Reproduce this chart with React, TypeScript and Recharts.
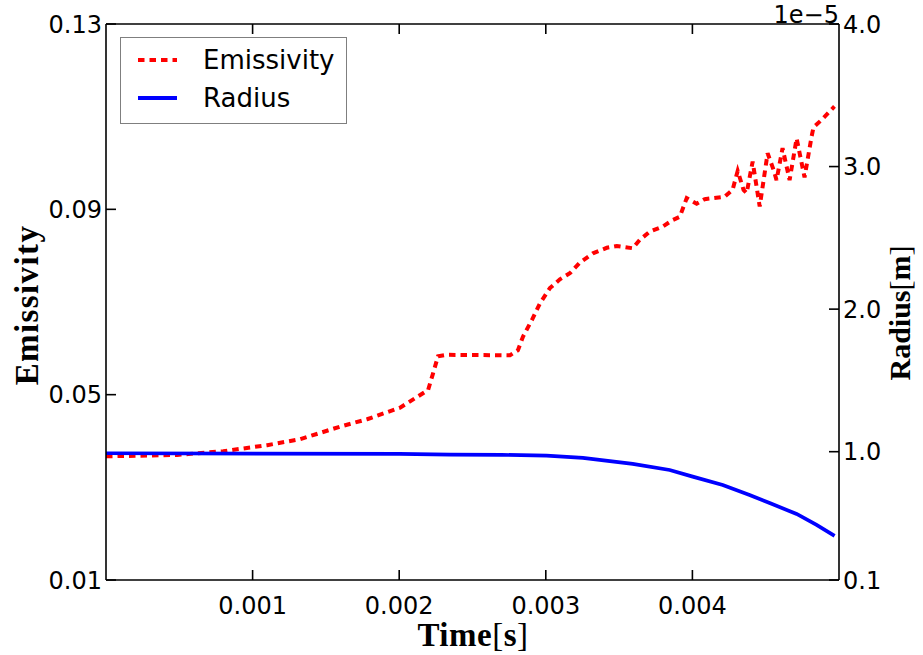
import { Legend, Line, LineChart, ReferenceLine, XAxis, YAxis } from 'recharts';

// time in seconds
const emissivityTime = [
  0, 0.0002, 0.000485, 0.0008, 0.0011, 0.001325, 0.001597, 0.001781, 0.002006, 0.002197,
  0.002231, 0.002265, 0.00232, 0.002756, 0.00281, 0.002844, 0.002905, 0.00296, 0.003028, 0.003096,
  0.003164, 0.003232, 0.003321, 0.003416, 0.003484, 0.003593, 0.003641, 0.003709, 0.003798, 0.003866,
  0.003914, 0.003961, 0.004029, 0.004084, 0.00422, 0.004274, 0.004309, 0.004349, 0.00437, 0.004411,
  0.004459, 0.004513, 0.004554, 0.004574, 0.004615, 0.004663, 0.004711, 0.004765, 0.004813, 0.004826,
  0.004881, 0.004969,
];
const emissivityValues = [
  0.0367, 0.0368, 0.037, 0.0378, 0.0391, 0.0404, 0.0431, 0.0447, 0.0472, 0.051,
  0.0546, 0.0583, 0.0586, 0.0585, 0.0596, 0.0625, 0.0661, 0.0697, 0.073, 0.0749,
  0.0762, 0.0785, 0.0805, 0.0817, 0.0821, 0.0816, 0.0834, 0.0852, 0.0863, 0.0877,
  0.0884, 0.0924, 0.0912, 0.0922, 0.0927, 0.0942, 0.0983, 0.0942, 0.0935, 0.1003,
  0.0906, 0.1021, 0.0985, 0.0963, 0.1032, 0.0963, 0.1053, 0.0969, 0.1057, 0.1077,
  0.1093, 0.1122,
];

const radiusTime = [
  0, 0.002, 0.002347, 0.0027, 0.003005, 0.003253, 0.003593, 0.003845, 0.004002, 0.004207,
  0.00439, 0.004527, 0.004711, 0.004847, 0.00497,
];
// radius in units of 1e-5 m
const radiusValues = [
  0.989, 0.985, 0.98, 0.978, 0.972, 0.956, 0.914, 0.872, 0.825, 0.766,
  0.696, 0.64, 0.563, 0.486, 0.409,
];

const timeTicks = [0.001, 0.002, 0.003, 0.004];
const emissivityTicks = [0.01, 0.05, 0.09, 0.13];
const radiusTicks = [0.1, 1, 2, 3, 4];

const emissivityData = emissivityTime.map((t, i) => ({ t, e: emissivityValues[i] }));
const radiusData = radiusTime.map((t, i) => ({ t, r: radiusValues[i] }));

const LEFT = 106;
const RIGHT = 839;
const TOP = 24;
const BOTTOM = 580;
const TICK = 10;
const AXIS_W = 1.6;
const tickFont = { fontFamily: 'DejaVu Sans', fontSize: 24, fill: '#000' };

function BottomTick(props: any) {
  const { x, payload } = props;
  return (
    <g>
      <line x1={x} x2={x} y1={BOTTOM} y2={BOTTOM - TICK} stroke="#000" strokeWidth={AXIS_W} />
      <line x1={x} x2={x} y1={TOP} y2={TOP + TICK} stroke="#000" strokeWidth={AXIS_W} />
      <text x={x} y={614} textAnchor="middle" {...tickFont}>
        {payload.value.toFixed(3)}
      </text>
    </g>
  );
}

function LeftTick(props: any) {
  const { y, payload } = props;
  return (
    <g>
      <line x1={LEFT} x2={LEFT + TICK} y1={y} y2={y} stroke="#000" strokeWidth={AXIS_W} />
      <text x={102} y={y + 8.5} textAnchor="end" {...tickFont}>
        {payload.value.toFixed(2)}
      </text>
    </g>
  );
}

function RightTick(props: any) {
  const { y, payload } = props;
  return (
    <g>
      <line x1={RIGHT - TICK} x2={RIGHT} y1={y} y2={y} stroke="#000" strokeWidth={AXIS_W} />
      <text x={843} y={y + 8.5} textAnchor="start" {...tickFont}>
        {payload.value.toFixed(1)}
      </text>
    </g>
  );
}

const labelFont = { fontFamily: 'Liberation Serif', fill: '#000' };

function LegendBox(props: any) {
  const { payload } = props;
  return (
    <div
      style={{
        width: 227,
        height: 87,
        boxSizing: 'border-box',
        border: '1px solid #7f7f7f',
        background: '#fff',
        position: 'relative',
        fontFamily: 'DejaVu Sans',
        fontSize: 26,
        color: '#000',
      }}
    >
      {(payload || []).map((entry: any, i: number) => (
        <div key={entry.value} style={{ position: 'absolute', left: 0, top: 7 + i * 38, height: 30, width: 225 }}>
          <svg width={60} height={30} style={{ position: 'absolute', left: 16, top: 0 }}>
            <line
              x1={1}
              x2={40}
              y1={15}
              y2={15}
              stroke={entry.color}
              strokeWidth={4}
              strokeDasharray={entry.payload?.strokeDasharray}
            />
          </svg>
          <span style={{ position: 'absolute', left: 82, top: 0, lineHeight: '30px' }}>{entry.value}</span>
        </div>
      ))}
    </div>
  );
}

export default function App() {
  return (
    <div style={{ position: 'absolute', left: 0, top: 0, width: 923, height: 655, background: '#fff' }}>
      <LineChart width={923} height={655} margin={{ top: TOP, right: 0, bottom: 0, left: 0 }}>
        <XAxis
          xAxisId="b"
          dataKey="t"
          type="number"
          domain={[0, 0.005]}
          ticks={timeTicks}
          interval={0}
          height={655 - BOTTOM}
          axisLine={{ stroke: '#000', strokeWidth: AXIS_W }}
          tickLine={false}
          tick={BottomTick}
          label={() => (
            <text x={473} y={646} textAnchor="middle" fontSize={33} letterSpacing={0.5} {...labelFont}>
              <tspan fontWeight="bold">Time</tspan>
              <tspan fontWeight="normal">[</tspan>
              <tspan fontWeight="bold">s</tspan>
              <tspan fontWeight="normal">]</tspan>
            </text>
          )}
        />
        <YAxis
          yAxisId="l"
          type="number"
          domain={[0.01, 0.13]}
          ticks={emissivityTicks}
          interval={0}
          width={LEFT}
          axisLine={{ stroke: '#000', strokeWidth: AXIS_W }}
          tickLine={false}
          tick={LeftTick}
          label={() => (
            <text
              x={38}
              y={305}
              transform="rotate(-90 38 305)"
              textAnchor="middle"
              fontWeight="bold"
              fontSize={33}
              letterSpacing={1.4}
              {...labelFont}
            >
              Emissivity
            </text>
          )}
        />
        <YAxis
          yAxisId="r"
          orientation="right"
          type="number"
          domain={[0.1, 4]}
          ticks={radiusTicks}
          interval={0}
          width={923 - RIGHT}
          axisLine={{ stroke: '#000', strokeWidth: AXIS_W }}
          tickLine={false}
          tick={RightTick}
          label={() => (
            <g>
              <text x={910} y={313} transform="rotate(-90 910 313)" textAnchor="middle" fontSize={30} {...labelFont}>
                <tspan fontWeight="bold">Radius</tspan>
                <tspan fontWeight="normal">[</tspan>
                <tspan fontWeight="bold">m</tspan>
                <tspan fontWeight="normal">]</tspan>
              </text>
              <text x={839} y={23} textAnchor="end" {...tickFont}>
                1e−5
              </text>
            </g>
          )}
        />
        <ReferenceLine yAxisId="l" xAxisId="b" y={0.13} stroke="#000" strokeWidth={AXIS_W} />
        <Line
          xAxisId="b"
          yAxisId="l"
          data={emissivityData}
          dataKey="e"
          name="Emissivity"
          type="linear"
          stroke="#ff0000"
          strokeWidth={4}
          strokeDasharray="6.5 5"
          dot={false}
          isAnimationActive={false}
        />
        <Line
          xAxisId="b"
          yAxisId="r"
          data={radiusData}
          dataKey="r"
          name="Radius"
          type="linear"
          stroke="#0000ff"
          strokeWidth={3.7}
          dot={false}
          isAnimationActive={false}
        />
        <Legend
          layout="vertical"
          align="center"
          verticalAlign="middle"
          wrapperStyle={{ left: 120, top: 37, width: 227, height: 87 }}
          content={LegendBox}
        />
      </LineChart>
    </div>
  );
}
